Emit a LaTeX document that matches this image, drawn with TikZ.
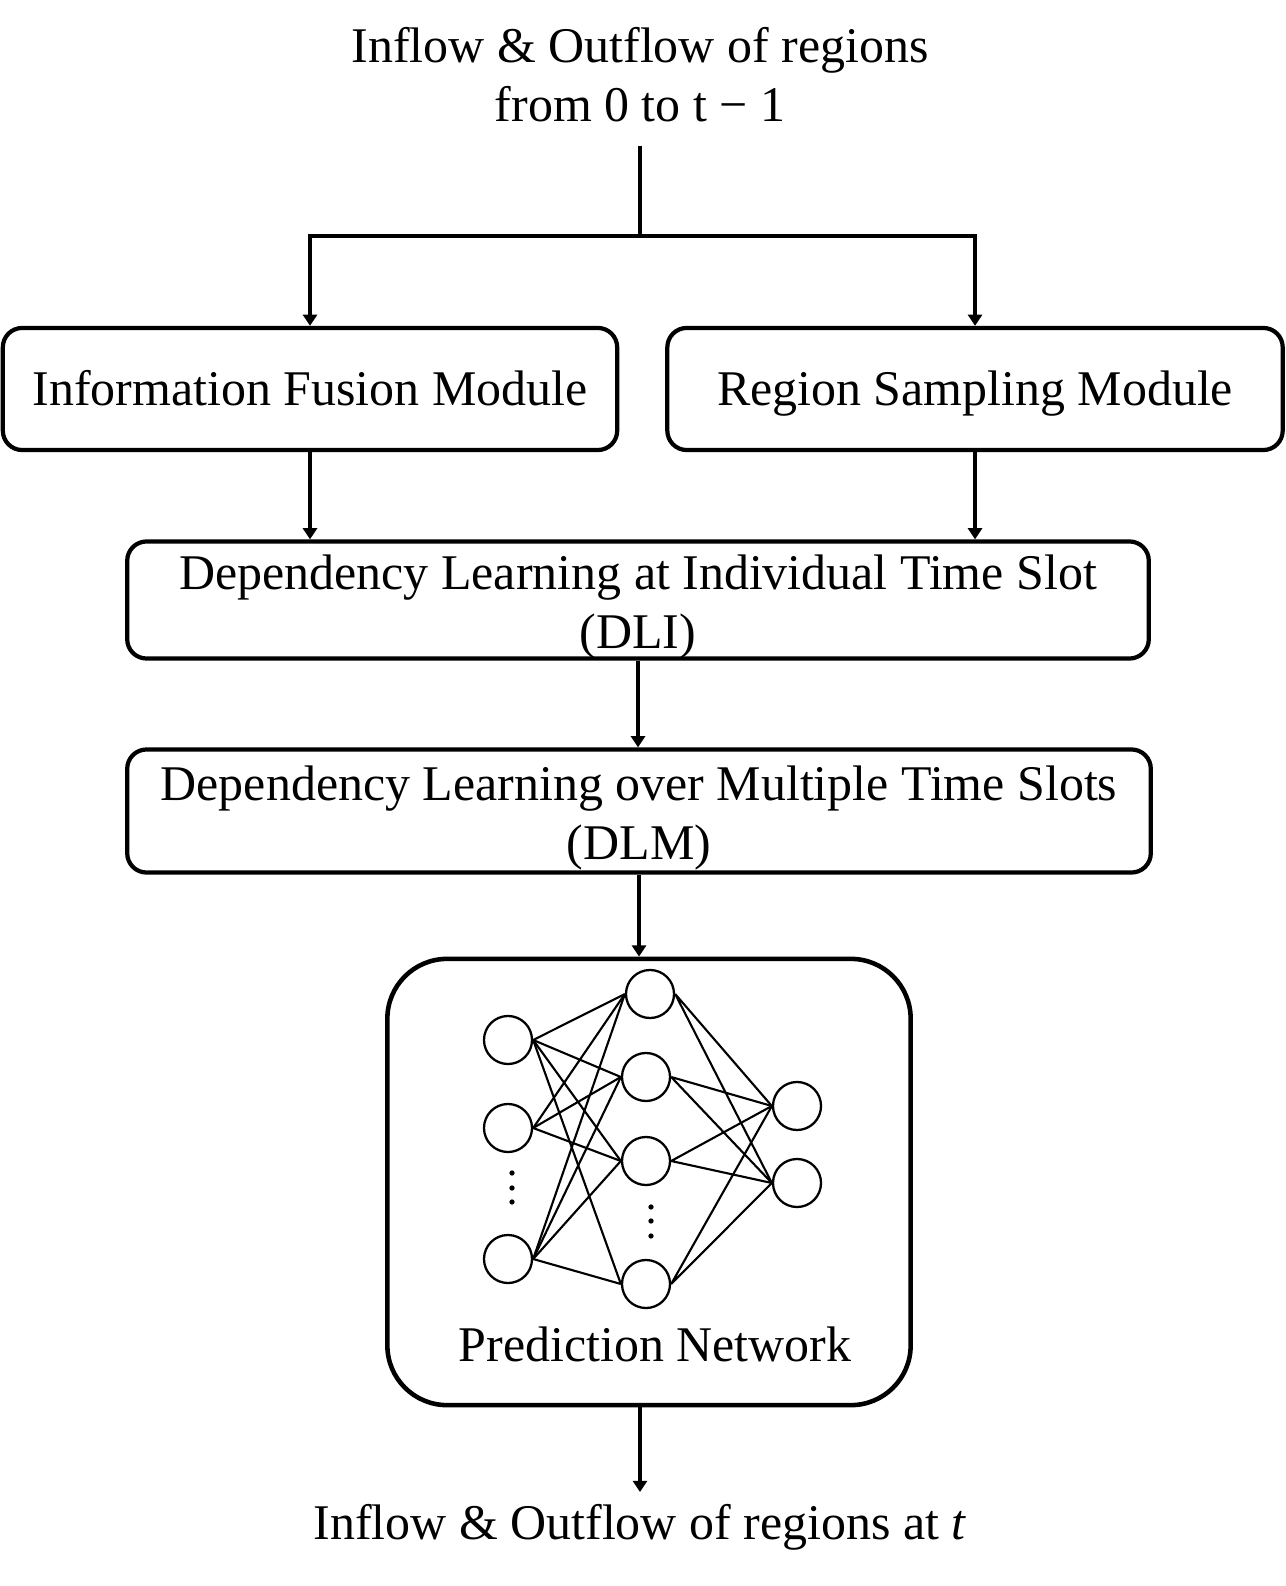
\documentclass[tikz,border=0pt]{standalone}
\usepackage{fontspec}
\setmainfont{Liberation Serif}
\usetikzlibrary{arrows.meta,positioning,calc}

\begin{document}
\begin{tikzpicture}[x=0.01cm, y=-0.01cm,
  font=\fontsize{14.2pt}{16.8pt}\selectfont,
  box/.style={draw, line width=1.2pt, rounded corners=5.5pt, align=center, inner sep=0pt},
  onel/.style={text height=9.4pt, text depth=0pt},
  twol/.style={text height=28.5pt, text depth=1pt},
  neuron/.style={draw, circle, line width=0.65pt, minimum size=4.8mm, inner sep=0pt},
  arr/.style={-{Triangle[length=3.2pt,width=4pt]}, line width=0.9pt},
  syn/.style={line width=0.6pt}]
\useasboundingbox (0,0) rectangle (1285,1586);
\node[align=center, minimum height=1.4cm, inner sep=0pt] (src) at (640,75) {Inflow \& Outflow of regions\\ from 0 to t − 1};
\coordinate (fork) at (640,236);
\node[box, onel, minimum width=6.14cm, minimum height=1.22cm] (ifm) at (310,389) {Information Fusion Module};
\node[box, onel, minimum width=6.15cm, minimum height=1.22cm] (rsm) at (975,389) {Region Sampling Module};
\node[box, twol, minimum width=10.21cm, minimum height=1.17cm] (dli) at (638,600) {Dependency Learning at Individual Time Slot\\ (DLI)};
\node[box, twol, minimum width=10.23cm, minimum height=1.23cm] (dlm) at (639,811) {Dependency Learning over Multiple Time Slots\\ (DLM)};
\node[box, line width=1.3pt, rounded corners=17pt, minimum width=5.23cm, minimum height=4.46cm] (pn) at (649,1182) {};
\node[anchor=base] (pnlabel) at (655,1361) {Prediction Network};
\node[anchor=north] (dst) at (640,1492) {Inflow \& Outflow of regions at \textit{t}};
% prediction network
\node[neuron] (i1) at (508,1040) {};
\node[neuron] (i2) at (508,1128) {};
\node[neuron] (i3) at (508,1259) {};
\node[neuron] (h1) at (650,994) {};
\node[neuron] (h2) at (646,1077) {};
\node[neuron] (h3) at (646,1161) {};
\node[neuron] (h4) at (646,1284) {};
\node[neuron] (o1) at (797,1106) {};
\node[neuron] (o2) at (797,1183) {};
\foreach \a/\b in {i1/h1,i1/h2,i1/h3,i1/h4,i2/h1,i2/h2,i2/h3,i3/h1,i3/h2,i3/h3,i3/h4}
  \draw[syn] (\a.east) -- (\b.west);
\foreach \h in {h1,h2,h3,h4}
  \draw[syn] (\h.east) -- (o1.west) (\h.east) -- (o2.west);
\foreach \y in {1173,1188,1202} \fill (512,\y) circle (0.75pt);
\foreach \y in {1207,1221,1236} \fill (651,\y) circle (0.75pt);
% flow
\draw[line width=0.9pt] (src.south) -- (fork);
\draw[arr] (fork) -| (ifm.north);
\draw[arr] (fork) -| (rsm.north);
\draw[arr] (ifm.south) -- (ifm.south |- dli.north);
\draw[arr] (rsm.south) -- (rsm.south |- dli.north);
\draw[arr] (dli.south) -- (dli.south |- dlm.north);
\draw[arr] (dlm.south) -- (dlm.south |- pn.north);
\draw[arr] (pn.south -| dst.north) -- (dst.north);
\end{tikzpicture}
\end{document}
